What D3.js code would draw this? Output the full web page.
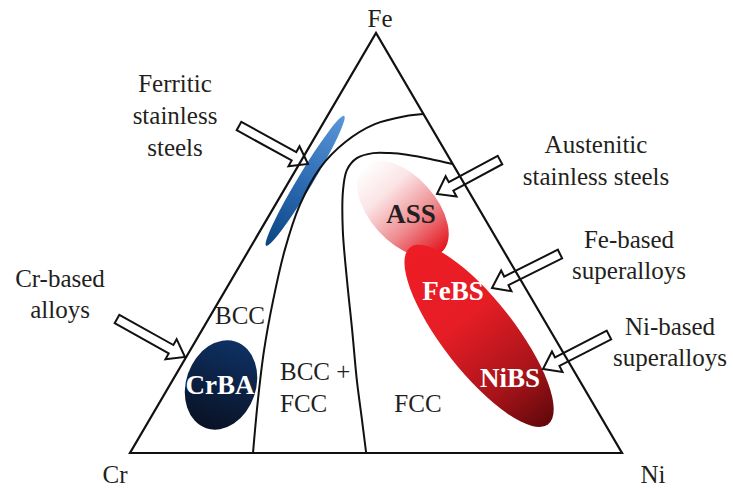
<!DOCTYPE html>
<html><head><meta charset="utf-8">
<script src="https://cdn.jsdelivr.net/npm/d3@7"></script>
<style>body{margin:0;background:#fff}svg{display:block}</style>
</head><body>
<svg id="c" width="733" height="489"></svg>
<script>
// ---- data (ternary compositions, at.% [Fe, Ni]; Cr = 100 - Fe - Ni) ----
const cornerNames = ["Cr", "Ni", "Fe"];
const cornerComps = [[0, 0], [0, 100], [100, 0]];
const boundaryBCC = [[0,25],[12.6,19.7],[24.5,15.0],[36.4,10.9],[48.3,7.3],[59.0,5.0],[67.9,4.7],[74.0,6.7],[78.3,10.6],[80.2,15.8],[80.7,19.3]];
const boundaryFCC = [[0,48.0],[7.9,43.2],[17.4,37.4],[29.3,30.5],[41.2,23.5],[53.1,16.7],[62.6,12.0],[67.4,10.4],[70.2,11.0],[71.4,13.7],[71.4,17.1],[71.0,20.8],[70.0,26.0],[68.8,31.2]];
const fieldNames = ["FSS", "ASS", "FeBS/NiBS", "CrBA"];
const fieldCenters = [[64.8, 3.2], [58.1, 26.4], [27.9, 57.0], [16.2, 10.4]];
const fieldSemiAxes = [[15.4, 1.55], [11.8, 6.7], [22.8, 7.3], [9.3, 7.1]];
const fieldAngles = [-59, 48, 52, -71];
const calloutTexts = [["Ferritic","stainless","steels"],["Austenitic","stainless steels"],["Fe-based","superalloys"],["Ni-based","superalloys"],["Cr-based","alloys"]];
const phaseLabels = ["BCC", "BCC +", "FCC", "FCC"];
const alloyLabels = ["ASS", "FeBS", "NiBS", "CrBA"];

// ---- scales ----
const svg = d3.select("#c");
const x = d3.scaleLinear().domain([0, 100]).range([130, 622]);
const y = d3.scaleLinear().domain([0, 100]).range([453, 33]);
const P = c => [x(c[1] + c[0] / 2), y(c[0])];
const pxPerUnit = x(1) - x(0);

// ---- gradients ----
const defs = svg.append("defs");
const grads = [
  [["0%","#0b4682"],["45%","#2a68b0"],["100%","#5a97d8"]],
  [["0%","#ffffff"],["30%","#fbe4e5"],["65%","#ee8b8f"],["100%","#e3151d"]],
  [["0%","#ee1c25"],["40%","#e61d25"],["75%","#a8141a"],["100%","#62080b"]],
  [["0%","#0a1224"],["55%","#0c2246"],["100%","#0e3163"]]
];
grads.forEach((stops, i) => {
  const g = defs.append("linearGradient").attr("id", "g" + i)
    .attr("x1", 0).attr("y1", 0).attr("x2", 1).attr("y2", 0);
  stops.forEach(s => g.append("stop").attr("offset", s[0]).attr("stop-color", s[1]));
});

// ---- fields (ellipses) ----
fieldCenters.forEach((c, i) => {
  const [cx, cy] = P(c);
  svg.append("ellipse")
    .attr("cx", 0).attr("cy", 0)
    .attr("rx", fieldSemiAxes[i][0] * pxPerUnit)
    .attr("ry", fieldSemiAxes[i][1] * pxPerUnit)
    .attr("transform", `translate(${cx},${cy}) rotate(${fieldAngles[i]})`)
    .attr("fill", `url(#g${i})`);
});

// ---- arrows (hollow block arrows) ----
const arrows = [
  [[239,126],[308,164]],
  [[500,160],[437,194]],
  [[560,254],[492,288]],
  [[609,335],[543,369]],
  [[117,319],[185,357]]
];
function arrowPath(t, h) {
  const dx = h[0]-t[0], dy = h[1]-t[1], len = Math.hypot(dx, dy);
  const ux = dx/len, uy = dy/len, nx = -uy, ny = ux;
  const w = 4.8, hw = 11.5, hl = 16;
  const b = [h[0]-ux*hl, h[1]-uy*hl];
  const pts = [
    [t[0]+nx*w, t[1]+ny*w], [b[0]+nx*w, b[1]+ny*w], [b[0]+nx*hw, b[1]+ny*hw], h,
    [b[0]-nx*hw, b[1]-ny*hw], [b[0]-nx*w, b[1]-ny*w], [t[0]-nx*w, t[1]-ny*w]
  ];
  return "M" + pts.map(p => p.join(",")).join("L") + "Z";
}
arrows.forEach(a => svg.append("path").attr("d", arrowPath(a[0], a[1]))
  .attr("fill", "#fff").attr("stroke", "#111").attr("stroke-width", 2).attr("stroke-linejoin", "miter"));

// ---- triangle and boundaries ----
svg.append("path")
  .attr("d", d3.line()(cornerComps.map(P)) + "Z")
  .attr("fill", "none").attr("stroke", "#111").attr("stroke-width", 2.2).attr("stroke-linejoin", "miter");
const curve = d3.line().curve(d3.curveCatmullRom.alpha(0.5));
[boundaryBCC, boundaryFCC].forEach(b => svg.append("path")
  .attr("d", curve(b.map(P)))
  .attr("fill", "none").attr("stroke", "#111").attr("stroke-width", 2));

// ---- text ----
const font = "'Liberation Serif','Times New Roman',serif";
function txt(s, tx, ty, opt = {}) {
  svg.append("text").attr("x", tx).attr("y", ty).text(s)
    .attr("font-family", font).attr("font-size", opt.size || 25)
    .attr("font-weight", opt.bold ? "bold" : "normal")
    .attr("fill", opt.fill || "#231f20")
    .attr("text-anchor", opt.anchor || "middle");
}
// corners
const cornerLabelPos = [[115, 483], [653, 483], [380, 27]];
cornerNames.forEach((n, i) => txt(n, cornerLabelPos[i][0], cornerLabelPos[i][1]));
// callouts
const calloutPos = [[175, 92, 32], [596, 153, 32], [629, 248, 31], [670, 335, 31], [60, 287, 31]];
calloutTexts.forEach((lines, i) => lines.forEach((l, j) =>
  txt(l, calloutPos[i][0], calloutPos[i][1] + j * calloutPos[i][2])));
// phase labels
const phasePos = [[240, 324, "middle"], [280, 380, "start"], [280, 412, "start"], [418, 412, "middle"]];
phaseLabels.forEach((l, i) => txt(l, phasePos[i][0], phasePos[i][1], {anchor: phasePos[i][2]}));
// alloy labels
const alloyPos = [[411, 223, "#231f20"], [453, 300, "#fff"], [510, 387, "#fff"], [220, 394, "#fff"]];
alloyLabels.forEach((l, i) => txt(l, alloyPos[i][0], alloyPos[i][1], {bold: true, size: 27, fill: alloyPos[i][2]}));
</script>
</body></html>
